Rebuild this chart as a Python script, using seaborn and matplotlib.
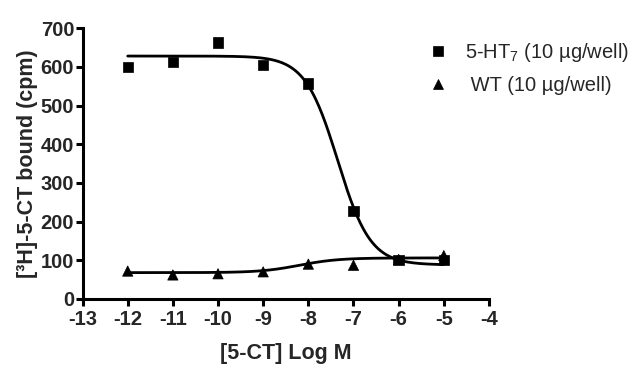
import matplotlib
matplotlib.use("Agg")
import matplotlib.pyplot as plt
import numpy as np
import pandas as pd
import seaborn as sns

# --- data ---
log_conc = [-12, -11, -10, -9, -8, -7, -6, -5]
ht7_bound = [600, 613, 663, 605, 557, 228, 100, 100]
wt_bound = [72, 62, 65, 70, 90, 87, 102, 112]

# fitted curve parameters (top, bottom, logEC50, hill)
ht7_fit = [628, 88, -7.35, -1.2]
wt_fit = [106, 68, -8.2, 1.0]

x_ticks = list(range(-13, -3))
y_ticks = list(range(0, 701, 100))

ht7_label = "5-HT$_7$ (10 µg/well)"
wt_label = " WT (10 µg/well)"

sns.set_theme(style="ticks")
plt.rcParams["font.family"] = ["Liberation Sans", "DejaVu Sans"]
plt.rcParams["mathtext.fontset"] = "custom"
plt.rcParams["mathtext.rm"] = "Liberation Sans"
plt.rcParams["mathtext.default"] = "regular"
plt.rcParams["axes.unicode_minus"] = False


def four_pl(x, top, bottom, log_ec50, hill):
    return bottom + (top - bottom) / (1 + 10 ** ((x - log_ec50) * -hill))


points = pd.DataFrame({
    "x": log_conc * 2,
    "y": ht7_bound + wt_bound,
    "series": [ht7_label] * len(log_conc) + [wt_label] * len(log_conc),
})

xs = np.linspace(min(log_conc), max(log_conc), 300)
curves = pd.DataFrame({
    "x": np.concatenate([xs, xs]),
    "y": np.concatenate([four_pl(xs, *ht7_fit), four_pl(xs, *wt_fit)]),
    "series": [ht7_label] * len(xs) + [wt_label] * len(xs),
})

fig = plt.figure(figsize=(6.4, 3.76), dpi=100)
ax = fig.add_axes([0.129, 0.205, 0.635, 0.72])

sns.lineplot(data=curves, x="x", y="y", units="series", estimator=None,
             color="black", linewidth=2.0, ax=ax, legend=False)
sns.scatterplot(data=points, x="x", y="y", style="series",
                markers={ht7_label: "s", wt_label: "^"},
                color="black", s=55, edgecolor="black", linewidth=0.5,
                ax=ax, zorder=3)

ax.set_xlim(-13, -4)
ax.set_ylim(0, 700)
ax.set_xticks(x_ticks, labels=[str(t) for t in x_ticks],
              fontweight="bold", fontsize=14.5)
ax.set_yticks(y_ticks, labels=[str(t) for t in y_ticks],
              fontweight="bold", fontsize=14.5)

for side in ["top", "right"]:
    ax.spines[side].set_visible(False)
for side in ["left", "bottom"]:
    ax.spines[side].set_linewidth(2.2)
    ax.spines[side].set_color("black")

ax.tick_params(axis="both", length=5, width=2.2, color="black",
               direction="out")
ax.tick_params(axis="y", pad=1)
ax.tick_params(axis="x", pad=3)

ax.set_xlabel("[5-CT] Log M", fontsize=15.5, fontweight="bold", labelpad=10)
ax.set_ylabel("[³H]-5-CT bound (cpm)", fontsize=15.5, fontweight="bold",
              labelpad=2)

handles, labels = ax.get_legend_handles_labels()
ax.legend_.remove()
fig.legend(handles, labels, loc="upper left", bbox_to_anchor=(0.625, 0.94),
           frameon=False, fontsize=14.5, handletextpad=0.35,
           labelspacing=0.6, markerscale=1.0)

fig.savefig("out.png", dpi=100)
